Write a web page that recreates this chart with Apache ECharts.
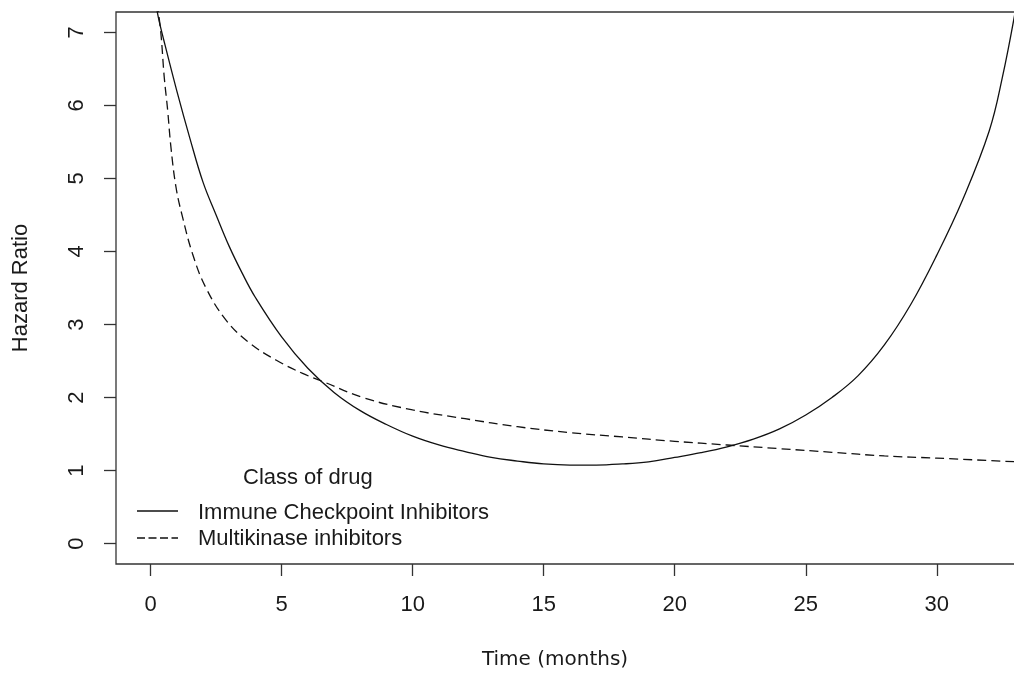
<!DOCTYPE html>
<html>
<head>
<meta charset="utf-8">
<title>Hazard Ratio over time</title>
<script src="https://cdn.jsdelivr.net/npm/echarts@6/dist/echarts.min.js"></script>
<style>
  html, body { margin: 0; padding: 0; background: #fff; }
  #main { width: 1014px; height: 678px; }
</style>
</head>
<body>
<div id="main"></div>
<script>
// time points (months) and hazard ratio
var iciTime = [0.2, 0.3, 0.5, 1, 1.5, 2, 2.5, 3, 3.5, 4, 5, 6, 7, 8, 9, 10, 11, 12, 13, 14, 15, 16, 17, 18, 19, 20, 21, 22, 23, 24, 25, 26, 27, 28, 29, 30, 31, 32, 32.5, 33]
var iciHR = [7.4, 7.2, 6.9, 6.2, 5.55, 4.95, 4.5, 4.07, 3.7, 3.37, 2.83, 2.4, 2.07, 1.82, 1.63, 1.47, 1.35, 1.26, 1.18, 1.13, 1.09, 1.075, 1.075, 1.09, 1.12, 1.18, 1.245, 1.325, 1.43, 1.57, 1.76, 2.0, 2.3, 2.72, 3.27, 3.95, 4.72, 5.65, 6.38, 7.3]

var mkiTime = [0.25, 0.39, 0.52, 0.65, 0.77, 0.97, 1.22, 1.6, 2.1, 2.9, 3.8, 4.8, 5.8, 6.5, 8.1, 10, 12, 14, 16, 18, 20, 22, 24, 26, 28, 30, 33]
var mkiHR = [7.4, 7.0, 6.39, 5.94, 5.45, 4.88, 4.47, 3.97, 3.51, 3.05, 2.74, 2.51, 2.33, 2.23, 2.0, 1.83, 1.71, 1.6, 1.52, 1.46, 1.4, 1.35, 1.3, 1.25, 1.2, 1.17, 1.12]

var xTicks = [0, 5, 10, 15, 20, 25, 30]
var yTicks = [0, 1, 2, 3, 4, 5, 6, 7]

var legendTitle = 'Class of drug'
var seriesNames = ['Immune Checkpoint Inhibitors', 'Multikinase inhibitors']

function pairs(xs, ys) {
  return xs.map(function(x, i) { return [x, ys[i]] })
}

var txt = '#1a1a1a'
var font = '"Liberation Sans", Arial, sans-serif'

var myChart = echarts.init(document.getElementById('main'), null, { renderer: 'canvas' })

var option = {
  backgroundColor: '#fff',
  animation: false,
  // plot box, right side runs past the picture like the original
  grid: {
    left: 116,
    top: 12,
    width: 934,
    height: 552,
    outerBoundsMode: 'none',
    show: true,
    borderColor: '#333',
    borderWidth: 1.3,
    backgroundColor: 'transparent'
  },
  xAxis: {
    type: 'value',
    min: -1.32,
    max: 34.32,
    name: 'Time (months)',
    nameLocation: 'middle',
    nameGap: 86,
    nameTextStyle: {
      fontFamily: '"DejaVu Sans", sans-serif',
      fontSize: 20,
      color: txt,
      padding: [0, 56, 0, 0]
    },
    axisLine: { show: false, onZero: false },
    axisTick: { show: true, length: 12, customValues: xTicks, lineStyle: { color: '#333', width: 1.3 } },
    axisLabel: { customValues: xTicks, margin: 30, fontFamily: font, fontSize: 22, color: txt },
    splitLine: { show: false }
  },
  yAxis: {
    type: 'value',
    min: -0.28,
    max: 7.28,
    name: 'Hazard Ratio',
    nameLocation: 'middle',
    nameRotate: 90,
    nameGap: 84,
    nameTextStyle: { fontFamily: font, fontSize: 22, color: txt },
    axisLine: { show: false, onZero: false },
    axisTick: { show: true, length: 12, customValues: yTicks, lineStyle: { color: '#333', width: 1.3 } },
    axisLabel: { customValues: yTicks, rotate: 90, margin: 28, fontFamily: font, fontSize: 22, color: txt },
    splitLine: { show: false }
  },
  series: [
    {
      name: seriesNames[0],
      type: 'line',
      data: pairs(iciTime, iciHR),
      showSymbol: false,
      smooth: 0.4,
      clip: true,
      lineStyle: { color: '#111', width: 1.3, type: 'solid' }
    },
    {
      name: seriesNames[1],
      type: 'line',
      data: pairs(mkiTime, mkiHR),
      showSymbol: false,
      smooth: 0.4,
      clip: true,
      lineStyle: { color: '#111', width: 1.3, type: [9, 5] }
    }
  ],
  // legend drawn by hand, R style
  graphic: [
    { type: 'text', left: 243, top: 467, style: { text: legendTitle, font: '22px ' + font, fill: txt } },
    { type: 'line', shape: { x1: 137, y1: 511, x2: 178, y2: 511 }, style: { stroke: '#111', lineWidth: 1.3 } },
    { type: 'text', left: 198, top: 502, style: { text: seriesNames[0], font: '22px ' + font, fill: txt } },
    { type: 'line', shape: { x1: 137, y1: 538, x2: 178, y2: 538 }, style: { stroke: '#111', lineWidth: 1.3, lineDash: [8, 3.5] } },
    { type: 'text', left: 198, top: 528, style: { text: seriesNames[1], font: '22px ' + font, fill: txt } }
  ]
}

myChart.setOption(option)
</script>
</body>
</html>
